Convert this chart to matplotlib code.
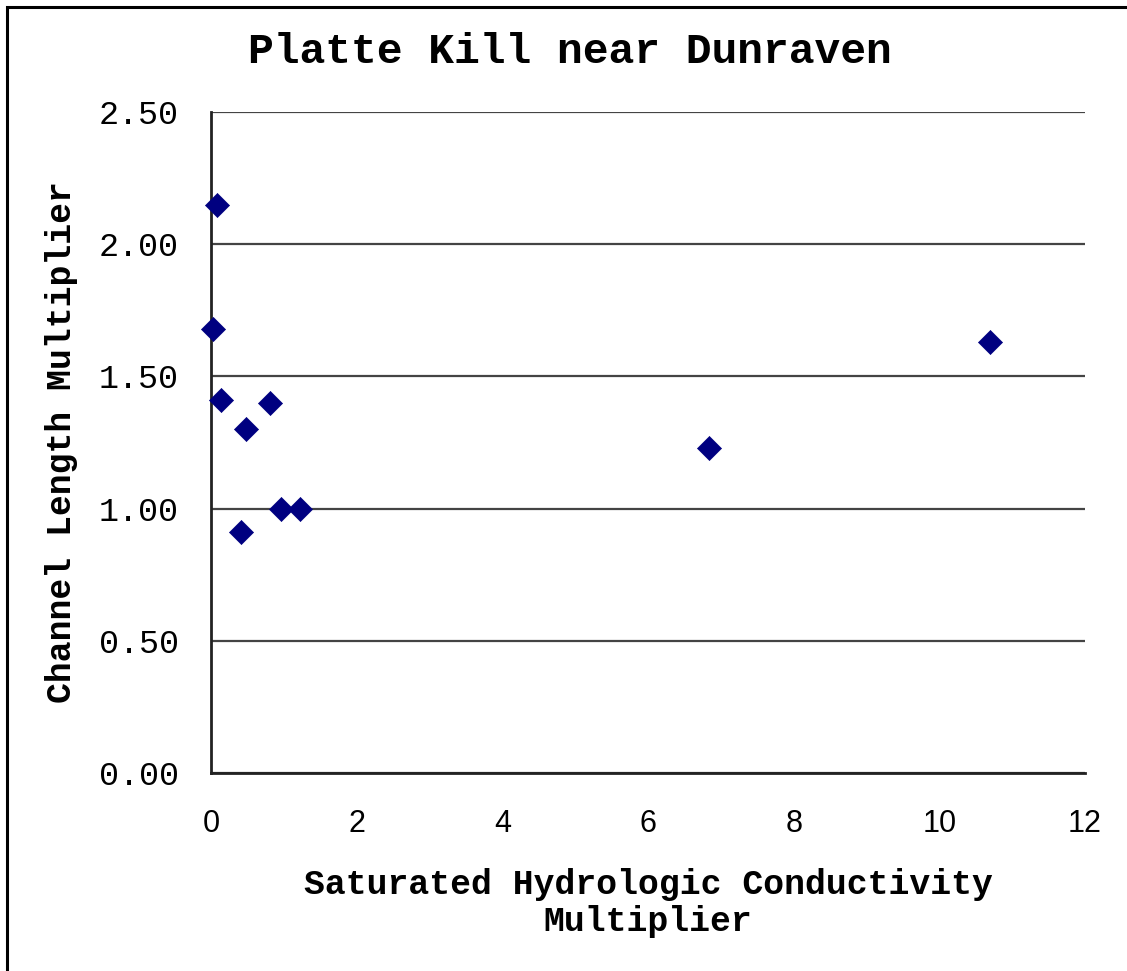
import matplotlib
matplotlib.use("Agg")
import matplotlib.pyplot as plt
from matplotlib.patches import Rectangle

title = "Platte Kill near Dunraven"
xlabel = "Saturated Hydrologic Conductivity\nMultiplier"
ylabel = "Channel Length Multiplier"

ksat_mult = [0.03, 0.08, 0.14, 0.48, 0.41, 0.81, 0.96, 1.22, 6.84, 10.70]
chl_mult = [1.68, 2.15, 1.41, 1.30, 0.91, 1.40, 1.00, 1.00, 1.23, 1.63]

x_ticks = [0, 2, 4, 6, 8, 10, 12]
y_ticks = [0.0, 0.5, 1.0, 1.5, 2.0, 2.5]
y_tick_labels = ["0.00", "0.50", "1.00", "1.50", "2.00", "2.50"]

fig = plt.figure(figsize=(11.27, 9.71), dpi=100)
fig.patch.set_facecolor("white")
fig.patches.append(Rectangle((0.006, -0.01), 1.02, 1.003, transform=fig.transFigure,
                             fill=False, edgecolor="black", linewidth=2.2))

ax = fig.add_axes([0.1872, 0.2039, 0.7755, 0.6808])
ax.scatter(ksat_mult, chl_mult, marker="D", s=150, color="#000080",
           edgecolors="#000080", linewidths=0.5, zorder=3, clip_on=False)

ax.set_xlim(0, 12)
ax.set_ylim(0, 2.5)
ax.set_xticks(x_ticks)
ax.set_yticks(y_ticks)
ax.set_yticklabels(y_tick_labels, fontfamily="Liberation Mono", fontsize=24)
ax.set_xticklabels([str(t) for t in x_ticks], fontfamily="Liberation Sans", fontsize=22)
ax.tick_params(axis="both", length=0)
ax.tick_params(axis="y", pad=23)
ax.tick_params(axis="x", pad=26)

ax.grid(axis="y", color="#444444", linewidth=1.6, zorder=0)
ax.set_axisbelow(True)
for s in ["top", "right"]:
    ax.spines[s].set_visible(False)
for s in ["left", "bottom"]:
    ax.spines[s].set_color("#222222")
    ax.spines[s].set_linewidth(2.0)

ax.set_xlabel(xlabel, fontfamily="Liberation Mono", fontweight="bold", fontsize=25,
              labelpad=21, linespacing=1.15)
ax.set_ylabel(ylabel, fontfamily="Liberation Mono", fontweight="bold", fontsize=25,
              labelpad=15)
fig.text(0.506, 0.946, title, ha="center", va="center", fontfamily="Liberation Mono",
         fontweight="bold", fontsize=31)

fig.savefig("out.png", dpi=100, facecolor="white")
